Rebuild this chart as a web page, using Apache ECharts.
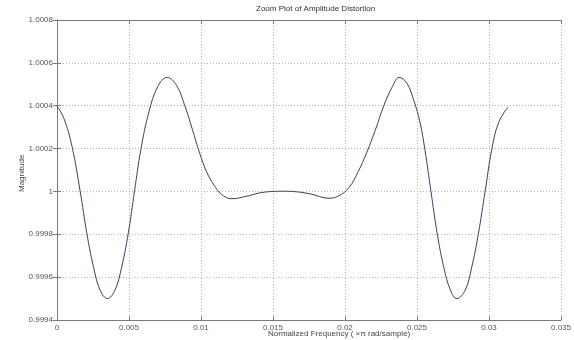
<!DOCTYPE html>
<html>
<head>
<meta charset="utf-8">
<script src="https://cdn.jsdelivr.net/npm/echarts@6/dist/echarts.min.js"></script>
<style>
  html, body { margin: 0; padding: 0; background: #fff; }
  #chart { width: 574px; height: 340px; }
</style>
</head>
<body>
<div id="chart"></div>
<script>
// Normalized frequency (x pi rad/sample)
const freq = [
  0, 0.00046, 0.00104, 0.00161, 0.00207, 0.00253, 0.00299, 0.00350,
  0.00403, 0.00450, 0.00495, 0.00538, 0.00582, 0.00640, 0.00700, 0.00765,
  0.00830, 0.00887, 0.00940, 0.00990, 0.01040, 0.01090, 0.01140, 0.01210,
  0.01314, 0.01406, 0.01500, 0.01565, 0.01630, 0.01756, 0.01890, 0.01964,
  0.02030, 0.02090, 0.02150, 0.02210, 0.02270, 0.02330, 0.02376, 0.02430,
  0.02480, 0.02520, 0.02555, 0.02597, 0.02640, 0.02685, 0.02732, 0.02777,
  0.02835, 0.02881, 0.02927, 0.02973, 0.03019, 0.03066, 0.03130
];
// Passband magnitude response
const magnitude = [
  1.000398, 1.000344, 1.000211, 1.000000, 0.999805, 0.999649, 0.999540, 0.999500,
  0.999540, 0.999650, 0.999805, 1.000000, 1.000195, 1.000375, 1.000490, 1.000532,
  1.000495, 1.000401, 1.000290, 1.000180, 1.000090, 1.000030, 0.999988, 0.999966,
  0.999977, 0.999993, 1.000000, 1.000001, 1.000000, 0.999989, 0.999968, 0.999982,
  1.000020, 1.000090, 1.000180, 1.000285, 1.000401, 1.000490, 1.000532, 1.000505,
  1.000420, 1.000325, 1.000195, 1.000000, 0.999805, 0.999649, 0.999540, 0.999500,
  0.999540, 0.999649, 0.999805, 1.000000, 1.000195, 1.000320, 1.000393
];
const xTicks = { min: 0, max: 0.035, interval: 0.005 };
const yTicks = { min: 0.9994, max: 1.0008, interval: 0.0002 };

const FONT = 'Liberation Sans';
const points = freq.map((f, i) => [f, magnitude[i]]);

const frame = { show: true, lineStyle: { color: '#7a7a7a', width: 1 } };
const ticksIn = { show: true, inside: true, length: 4, lineStyle: { color: '#7a7a7a' } };
const gridLines = { show: true, lineStyle: { type: [1, 2], color: '#b5b5b5', width: 1 } };
const labelStyle = { fontFamily: FONT, fontSize: 8, color: '#555' };

const chart = echarts.init(document.getElementById('chart'));
chart.setOption({
  animation: false,
  backgroundColor: '#fff',
  grid: { left: 57, right: 11, top: 20, bottom: 20 },
  xAxis: [
    {
      type: 'value', position: 'bottom', ...xTicks,
      axisLine: frame, axisTick: ticksIn, splitLine: gridLines,
      axisLabel: { ...labelStyle, margin: 4,
        formatter: v => String(+v.toFixed(3)) }
    },
    {
      type: 'value', position: 'top', ...xTicks,
      axisLine: frame, axisTick: ticksIn, splitLine: { show: false },
      axisLabel: { show: false }
    }
  ],
  yAxis: [
    {
      type: 'value', position: 'left', ...yTicks,
      axisLine: frame, axisTick: ticksIn, splitLine: gridLines,
      axisLabel: { ...labelStyle, margin: 4,
        formatter: v => String(+v.toFixed(4)) }
    },
    {
      type: 'value', position: 'right', ...yTicks,
      axisLine: frame, axisTick: ticksIn, splitLine: { show: false },
      axisLabel: { show: false }
    }
  ],
  series: [{
    type: 'line',
    data: points,
    smooth: 0.4,
    showSymbol: false,
    lineStyle: { color: '#38425f', width: 1 }
  }],
  graphic: [
    { type: 'text', left: 256, top: 5,
      style: { text: 'Zoom Plot of Amplitude Distortion', font: '8px "' + FONT + '"', fill: '#333' } },
    { type: 'text', left: 268, top: 330,
      style: { text: 'Normalized Frequency ( ×π rad/sample)', font: '8px "' + FONT + '"', fill: '#444' } },
    { type: 'text', x: 18, y: 192, rotation: Math.PI / 2,
      style: { text: 'Magnitude', font: '8px "' + FONT + '"', fill: '#444' } }
  ]
});
</script>
</body>
</html>
